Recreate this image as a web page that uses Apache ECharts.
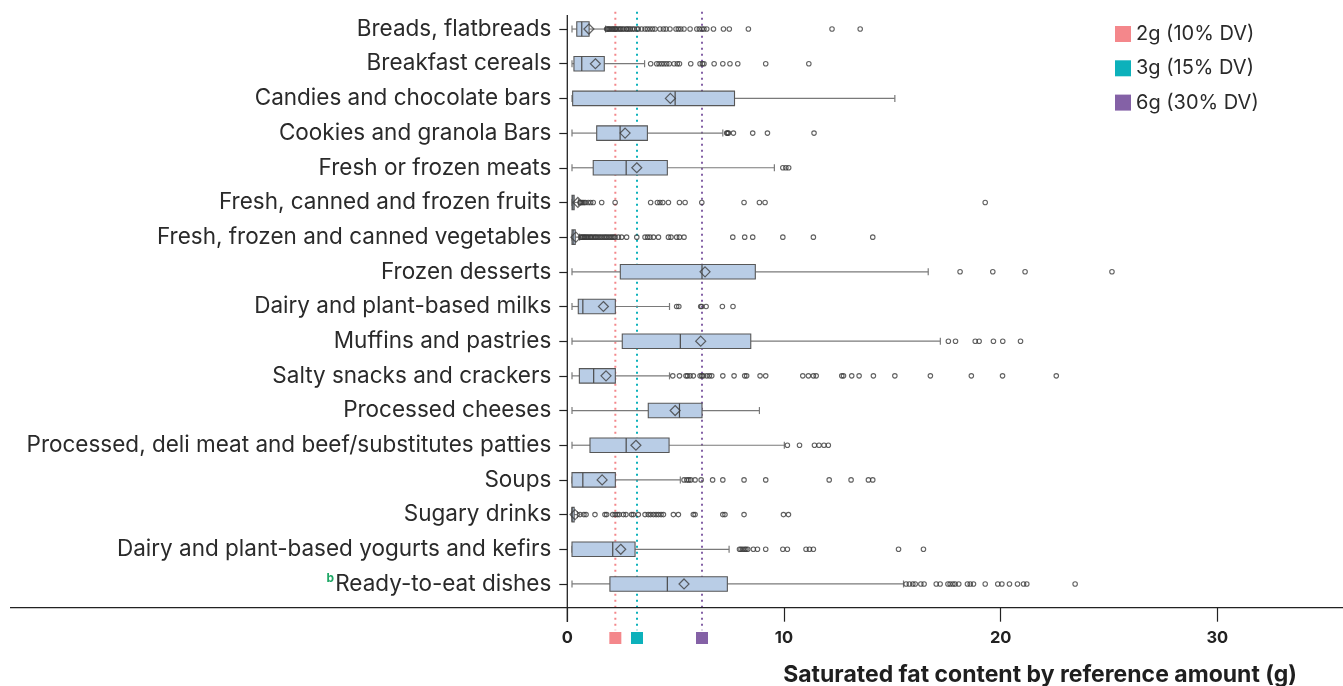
<!DOCTYPE html>
<html>
<head>
<meta charset="utf-8">
<script src="https://cdn.jsdelivr.net/npm/echarts@6/dist/echarts.min.js"></script>
<style>
  html, body { margin: 0; padding: 0; background: #ffffff; }
  #chart { width: 1343px; height: 686px; }
</style>
</head>
<body>
<div id="chart"></div>
<script>
// Food categories, top to bottom
const categories = [
  'Breads, flatbreads',
  'Breakfast cereals',
  'Candies and chocolate bars',
  'Cookies and granola Bars',
  'Fresh or frozen meats',
  'Fresh, canned and frozen fruits',
  'Fresh, frozen and canned vegetables',
  'Frozen desserts',
  'Dairy and plant-based milks',
  'Muffins and pastries',
  'Salty snacks and crackers',
  'Processed cheeses',
  'Processed, deli meat and beef/substitutes patties',
  'Soups',
  'Sugary drinks',
  'Dairy and plant-based yogurts and kefirs',
  'Ready-to-eat dishes'
];

// Five-number summaries (g saturated fat per reference amount)
const mins    = [0,    0,    0,    0,    0,    0,    0,    0,    0,    0,    0,    0,    0,    0,   0,    0,    0];
const q1s     = [0.22, 0.09, 0.03, 1.14, 0.98, 0,    0,    2.23, 0.29, 2.32, 0.34, 3.52, 0.83, 0,   0,    0,    1.75];
const medians = [0.45, 0.45, 4.76, 2.22, 2.5,  0.04, 0.05, 6.0,  0.5,  5.0,  1.0,  4.96, 2.5,  0.5, 0,    1.88, 4.4];
const q3s     = [0.79, 1.49, 7.5,  3.48, 4.4,  0.1,  0.15, 8.46, 2.0,  8.25, 2.0,  6.0,  4.48, 2.0, 0.1,  2.91, 7.17];
const maxs    = [1.55, 3.35, 14.9, 6.96, 9.34, 0.3,  0.35, 16.44, 4.5, 17.0, 4.5,  8.65, 9.8,  5.0, 0.25, 7.25, 15.3];

// Category means (diamonds)
const means   = [0.78, 1.08, 4.54, 2.45, 2.99, 0.27, 0.18, 6.14, 1.45, 5.94, 1.57, 4.76, 2.95, 1.39, 0.14, 2.25, 5.17];

// Outlying products per category
const outliers = [
  [1.6, 1.64, 1.7, 1.73, 1.8, 1.86, 1.9, 1.97, 2.0, 2.05, 2.12, 2.2, 2.25, 2.33, 2.4, 2.5, 2.55, 2.63, 2.7, 2.8, 2.88, 3.0, 3.06,
   3.21, 3.37, 3.48, 3.6, 3.72, 3.83, 4.06, 4.22, 4.34, 4.52, 4.8, 4.91, 5.02, 5.17, 5.45, 5.76, 5.88, 6.0, 6.09, 6.22, 6.53, 6.99, 7.26, 8.14, 12.0, 13.3],
  [3.63, 3.91, 4.02, 4.14, 4.25, 4.37, 4.49, 4.71, 4.86, 4.96, 5.48, 5.91, 6.02, 6.09, 6.56, 6.96, 7.29, 7.65, 8.94, 10.93],
  [],
  [7.14, 7.18, 7.22, 7.45, 8.34, 9.02, 11.17],
  [9.73, 9.87, 10.0],
  [0.37, 0.42, 0.48, 0.55, 0.62, 0.75, 0.86, 0.98, 1.37, 1.99, 3.63, 3.94, 4.06, 4.19, 4.45, 4.96, 5.22, 5.99, 7.94, 8.65, 8.91, 19.07],
  [0.4, 0.45, 0.5, 0.56, 0.6, 0.66, 0.72, 0.78, 0.85, 0.9, 0.97, 1.05, 1.1, 1.17, 1.25, 1.32, 1.4, 1.48, 1.55, 1.62, 1.7, 1.78, 1.85, 1.92,
   1.99, 2.14, 2.29, 2.52, 2.99, 3.37, 3.49, 3.6, 3.76, 3.99, 4.45, 4.57, 4.83, 4.96, 5.17, 7.42, 7.97, 8.34, 9.73, 11.14, 13.88],
  [17.91, 19.42, 20.91, 24.92],
  [4.83, 4.93, 5.94, 5.99, 6.19, 6.94, 7.43],
  [17.37, 17.7, 18.61, 18.79, 19.45, 19.88, 20.7],
  [4.65, 4.96, 5.26, 5.33, 5.45, 5.6, 5.91, 5.99, 6.06, 6.22, 6.34, 6.45, 6.96, 7.48, 7.97, 8.06, 8.68, 8.94, 10.65, 10.91, 11.14, 11.27,
   12.45, 12.53, 12.91, 13.25, 13.91, 14.9, 16.54, 18.43, 19.87, 22.35],
  [],
  [9.94, 10.5, 11.19, 11.4, 11.63, 11.83],
  [5.17, 5.3, 5.39, 5.48, 5.68, 5.96, 6.49, 6.96, 7.94, 8.94, 11.87, 12.88, 13.68, 13.88],
  [0.37, 0.55, 0.65, 1.06, 1.52, 1.6, 1.88, 1.99, 2.09, 2.18, 2.37, 2.49, 2.75, 2.83, 3.06, 3.37, 3.52, 3.63, 3.76, 3.88, 3.99, 4.11, 4.22,
   4.68, 4.91, 5.6, 5.68, 6.96, 7.06, 7.94, 9.76, 9.99],
  [7.73, 7.8, 7.88, 7.97, 8.03, 8.11, 8.37, 8.56, 8.94, 9.73, 9.94, 10.8, 10.96, 11.14, 15.07, 16.22],
  [15.42, 15.57, 15.73, 15.84, 16.1, 16.25, 16.81, 16.99, 17.35, 17.45, 17.58, 17.68, 17.85, 18.25, 18.38, 18.53, 19.07, 19.65, 19.84,
   20.19, 20.56, 20.84, 20.99, 23.22]
];

// Daily value reference thresholds
const refValues = [2, 3, 6];
const refNames  = ['2g (10% DV)', '3g (15% DV)', '6g (30% DV)'];
const refColors = ['#F4878B', '#0CB1BB', '#8461A6'];

// Axis ticks
const tickValues = [0, 10, 20, 30];
const axisTitle = 'Saturated fat content by reference amount (g)';

// Layout
const FONT = 'Inter';
const GRID = { left: 567.3, right: 0, top: 11.7, bottom: 84.7 };
const AXIS_MAX = 35.8;
const DATA_SHIFT = 0.217;          // plotted values sit slightly right of the scale origin
const AXIS_Y = 607.7;              // x-axis rule
const X_AXIS_OFFSET = AXIS_Y - (686 - GRID.bottom);

const chart = echarts.init(document.getElementById('chart'), null, { renderer: 'canvas' });

const boxData = categories.map((c, i) => [i, mins[i], q1s[i], medians[i], q3s[i], maxs[i]]);
const meanData = categories.map((c, i) => [means[i], i]);
const outlierData = [];
outliers.forEach((arr, i) => arr.forEach(v => outlierData.push([v, i])));

function renderBox(params, api) {
  const cat = api.value(0);
  const px = k => api.coord([api.value(k), cat])[0];
  const y = api.coord([0, cat])[1];
  const xMin = px(1), xQ1 = px(2), xMed = px(3), xQ3 = px(4), xMax = px(5);
  const h = 14.5, cap = 7;
  const whisker = { stroke: '#7a7a7a', lineWidth: 1.2 };
  const edge = { stroke: '#4a4a4a', lineWidth: 1.2 };
  return {
    type: 'group',
    children: [
      { type: 'line', shape: { x1: xMin, y1: y, x2: xQ1, y2: y }, style: whisker },
      { type: 'line', shape: { x1: xQ3, y1: y, x2: xMax, y2: y }, style: whisker },
      { type: 'line', shape: { x1: xMin, y1: y - cap / 2, x2: xMin, y2: y + cap / 2 }, style: whisker },
      { type: 'line', shape: { x1: xMax, y1: y - cap / 2, x2: xMax, y2: y + cap / 2 }, style: whisker },
      { type: 'rect', shape: { x: xQ1, y: y - h / 2, width: Math.max(xQ3 - xQ1, 1), height: h },
        style: { fill: '#B9CDE6', stroke: '#575757', lineWidth: 1.1 } },
      { type: 'line', shape: { x1: xMed, y1: y - h / 2, x2: xMed, y2: y + h / 2 }, style: edge }
    ]
  };
}

function refSeries(idx) {
  return {
    name: refNames[idx],
    type: 'custom',
    xAxisIndex: 1,
    yAxisIndex: 0,
    clip: false,
    z: 1,
    itemStyle: { color: refColors[idx] },
    encode: { x: 0, y: 1 },
    data: [[refValues[idx], 0]],
    renderItem: function (params, api) {
      const x = api.coord([api.value(0), 0])[0];
      const cs = params.coordSys;
      const bottom = cs.y + cs.height;
      return {
        type: 'group',
        children: [
          { type: 'line', shape: { x1: x, y1: cs.y, x2: x, y2: bottom + 29 },
            style: { stroke: refColors[idx], lineWidth: 2, lineDash: [2, 4] } },
          { type: 'rect', shape: { x: x - 6, y: bottom + 30.7, width: 12, height: 12 },
            style: { fill: refColors[idx] } }
        ]
      };
    }
  };
}

const option = {
  animation: false,
  backgroundColor: '#ffffff',
  textStyle: { fontFamily: FONT },
  grid: GRID,
  title: {
    text: axisTitle,
    right: 46,
    top: 663,
    padding: 0,
    textStyle: { fontFamily: FONT, fontSize: 23, fontWeight: 'bold', color: '#1f1f1f', lineHeight: 24 }
  },
  legend: {
    orient: 'vertical',
    left: 1110,
    top: 19,
    itemWidth: 16,
    itemHeight: 16,
    itemGap: 14.3,
    icon: 'rect',
    data: refNames,
    textStyle: { fontFamily: FONT, fontSize: 20, color: '#2a2a2a', lineHeight: 20 }
  },
  xAxis: [
    {
      type: 'value',
      min: 0,
      max: AXIS_MAX,
      interval: 10,
      offset: X_AXIS_OFFSET,
      axisLine: { show: false },
      axisTick: { show: true, length: 14, customValues: tickValues, lineStyle: { color: '#222', width: 1.2 } },
      axisLabel: {
        customValues: tickValues,
        margin: 22,
        fontFamily: FONT, fontSize: 16.5, fontWeight: 'bold', color: '#222'
      },
      splitLine: { show: false }
    },
    {
      type: 'value',
      show: false,
      min: -DATA_SHIFT,
      max: AXIS_MAX - DATA_SHIFT,
      splitLine: { show: false }
    }
  ],
  yAxis: {
    type: 'category',
    inverse: true,
    data: categories,
    axisLine: { show: false },
    axisTick: { show: true, alignWithLabel: true, length: 8, lineStyle: { color: '#222', width: 1.2 } },
    axisLabel: {
      margin: 16,
      fontFamily: FONT,
      fontSize: 22.5,
      color: '#2a2a2a',
      formatter: function (v) {
        return v === 'Ready-to-eat dishes' ? '{sup|b}{n|' + v + '}' : v;
      },
      rich: {
        sup: { fontFamily: FONT, fontSize: 12, fontWeight: 'bold', color: '#1FA866', padding: [0, 1, 12, 0] },
        n: { fontFamily: FONT, fontSize: 22.5, color: '#2a2a2a' }
      }
    }
  },
  graphic: [
    { type: 'line', shape: { x1: 10, y1: AXIS_Y, x2: 1343, y2: AXIS_Y }, style: { stroke: '#222', lineWidth: 1.3 }, z: 50 },
    { type: 'line', shape: { x1: GRID.left, y1: 15, x2: GRID.left, y2: 622 }, style: { stroke: '#222', lineWidth: 1.3 }, z: 50 }
  ],
  series: [
    refSeries(0), refSeries(1), refSeries(2),
    {
      name: 'box',
      type: 'custom',
      xAxisIndex: 1,
      yAxisIndex: 0,
      z: 3,
      encode: { x: [1, 2, 3, 4, 5], y: 0 },
      data: boxData,
      renderItem: renderBox
    },
    {
      name: 'outliers',
      type: 'scatter',
      xAxisIndex: 1,
      yAxisIndex: 0,
      z: 4,
      symbol: 'circle',
      symbolSize: 4.5,
      itemStyle: { color: 'rgba(255,255,255,0)', borderColor: '#3a3a3a', borderWidth: 1.1 },
      data: outlierData
    },
    {
      name: 'mean',
      type: 'scatter',
      xAxisIndex: 1,
      yAxisIndex: 0,
      z: 5,
      symbol: 'diamond',
      symbolSize: [10, 10],
      itemStyle: { color: 'rgba(255,255,255,0)', borderColor: '#3f3f3f', borderWidth: 1.2 },
      data: meanData
    }
  ]
};

chart.setOption(option);
</script>
</body>
</html>
